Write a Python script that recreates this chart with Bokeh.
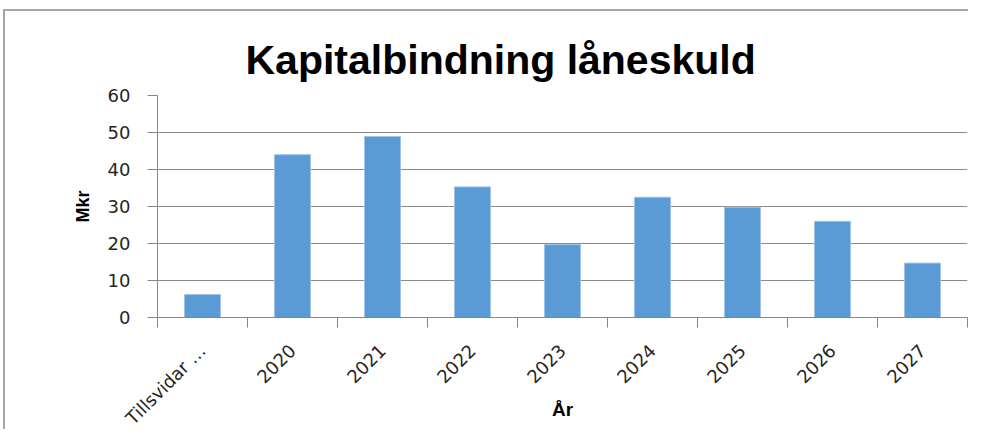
from bokeh.plotting import figure
from bokeh.models import Range1d, FixedTicker
from bokeh.embed import file_html
from bokeh.resources import INLINE

categories = ["Tillsvidar …", "2020", "2021", "2022", "2023", "2024", "2025", "2026", "2027"]
values = [6.2, 44.0, 48.9, 35.3, 19.7, 32.5, 29.8, 26.0, 14.7]
y_ticks = [0, 10, 20, 30, 40, 50, 60]

centers = [i + 0.5 for i in range(len(categories))]
bounds = [float(i) for i in range(len(categories) + 1)]

p = figure(width=963, height=418, output_backend="svg", toolbar_location=None,
           x_range=Range1d(0, len(categories)), y_range=Range1d(0, 60),
           frame_width=810, frame_height=222,
           min_border_left=152, min_border_right=1, min_border_top=84, min_border_bottom=112,
           title="Kapitalbindning låneskuld")
p.styles = {"border-top": "2px solid #a6a6a6", "border-left": "2px solid #a6a6a6",
            "margin-top": "9px", "margin-left": "3px"}

p.title.text_font = "Liberation Sans"
p.title.text_font_size = "41px"
p.title.text_font_style = "bold"
p.title.text_color = "black"
p.title.align = "left"
p.title.offset = 88
p.title.standoff = 25

p.vbar(x=centers, top=values, width=0.4, fill_color="#5B9BD5", line_color="#9fc3e7", line_width=1)

p.outline_line_color = None
p.xgrid.visible = False
p.ygrid.grid_line_color = "#8a8a8a"
p.ygrid.grid_line_width = 1

xa = p.xaxis[0]
xa.ticker = FixedTicker(ticks=centers, minor_ticks=bounds)
xa.major_label_overrides = {c: n for c, n in zip(centers, categories)}
xa.major_tick_out = 0
xa.major_tick_in = 0
xa.minor_tick_out = 10
xa.minor_tick_in = 0
xa.minor_tick_line_color = "#868686"
xa.axis_line_color = "#868686"
xa.major_label_orientation = 0.785398
xa.major_label_text_font = "DejaVu Sans"
xa.major_label_text_font_size = "18px"
xa.major_label_text_color = "#262626"
xa.major_label_standoff = 20
xa.axis_label = "År"
xa.axis_label_text_font = "Liberation Sans"
xa.axis_label_text_font_style = "bold"
xa.axis_label_text_font_size = "19px"
xa.axis_label_text_color = "black"
xa.axis_label_standoff = -40

ya = p.yaxis[0]
ya.ticker = FixedTicker(ticks=y_ticks)
ya.minor_tick_line_color = None
ya.major_tick_out = 10
ya.major_tick_in = 0
ya.major_tick_line_color = "#868686"
ya.axis_line_color = "#868686"
ya.major_label_text_font = "DejaVu Sans"
ya.major_label_text_font_size = "18px"
ya.major_label_text_color = "#262626"
ya.major_label_standoff = 17
ya.axis_label = "Mkr"
ya.axis_label_text_font = "Liberation Sans"
ya.axis_label_text_font_style = "bold"
ya.axis_label_text_font_size = "18px"
ya.axis_label_text_color = "black"
ya.axis_label_standoff = 12

open("out.html", "w").write(file_html(p, INLINE))
